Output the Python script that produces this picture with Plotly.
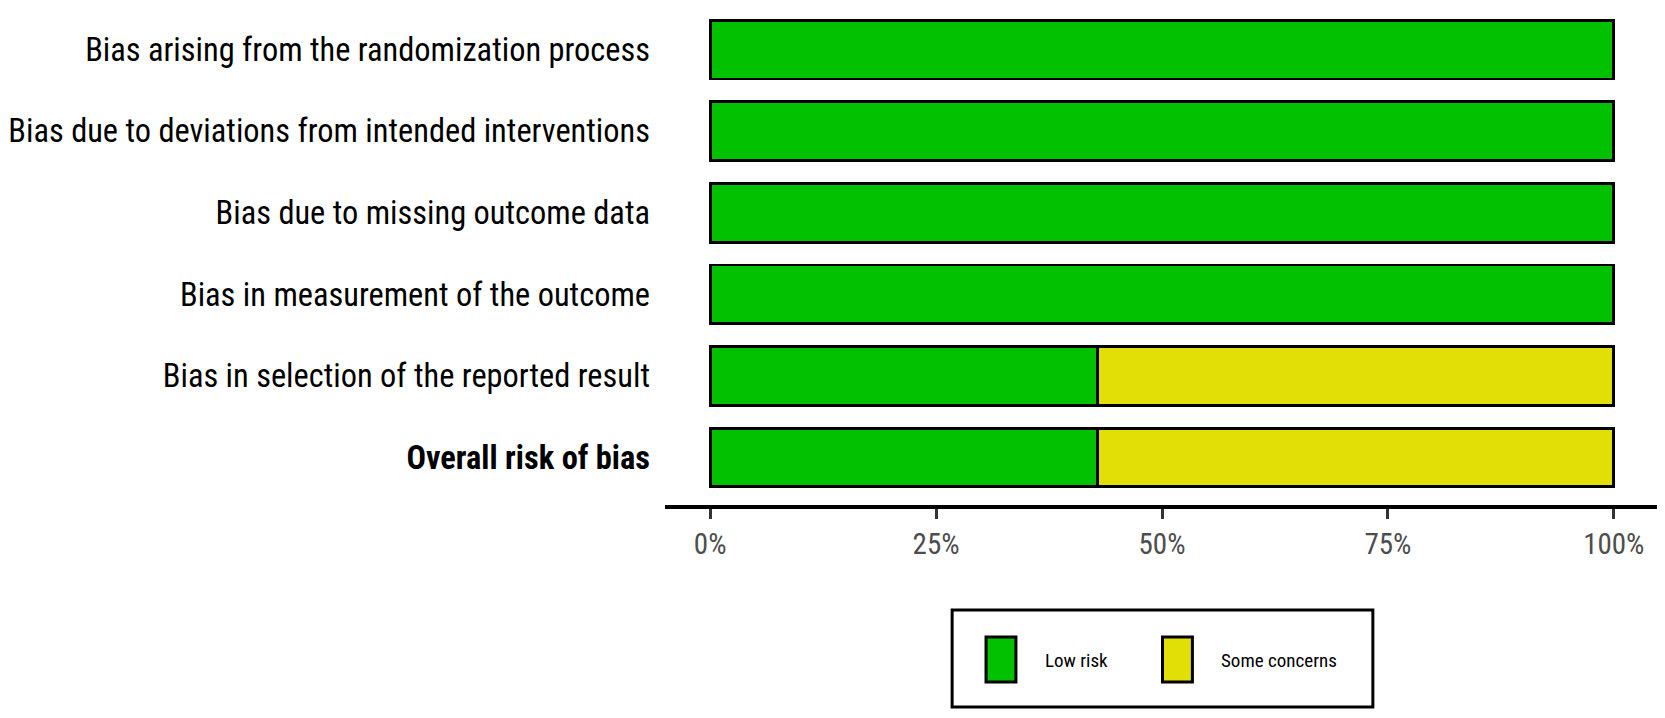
import plotly.graph_objects as go

# ---- data ----
domains = [
    "Bias arising from the randomization process",
    "Bias due to deviations from intended interventions",
    "Bias due to missing outcome data",
    "Bias in measurement of the outcome",
    "Bias in selection of the reported result",
    "Overall risk of bias",
]
low_risk = [100, 100, 100, 100, 42.86, 42.86]
some_concerns = [0, 0, 0, 0, 57.14, 57.14]
series_names = ["Low risk", "Some concerns"]
series_colors = ["#02C100", "#E2DF07"]
tick_vals = [0, 25, 50, 75, 100]
tick_labels = ["0%", "25%", "50%", "75%", "100%"]

# page has an 8px body margin; size the figure to fit the window
OFF = 8
W, H = 1665 - OFF, 718 - OFF
ML, MR, MT, MB = 662 - OFF, 6, 0, 213
PW, PH = W - ML - MR, H - MT - MB

FONT = "Liberation Sans Narrow, Arial Narrow, Roboto Condensed, Liberation Sans, sans-serif"

display = [d if d != "Overall risk of bias" else "<b>" + d + "</b>" for d in domains]

fig = go.Figure()
for name, vals, col in zip(series_names, [low_risk, some_concerns], series_colors):
    fig.add_trace(go.Bar(
        y=domains, x=[v if v > 0 else None for v in vals], name=name, orientation="h",
        marker=dict(color=col, line=dict(color="black", width=2.8)),
        width=0.72, showlegend=False,
    ))

def px(x):
    return (x - OFF - ML) / PW

def py(y):
    return (H - MB - (y - OFF)) / PH

shapes = []
annotations = []
# legend box (page pixel positions)
shapes.append(dict(type="rect", xref="paper", yref="paper",
                   x0=px(950), x1=px(1372), y0=py(707), y1=py(610),
                   line=dict(color="black", width=3), fillcolor="white"))
key_x = [984, 1161]
text_x = [1041, 1218]
for kx, tx, name, col in zip(key_x, text_x, series_names, series_colors):
    shapes.append(dict(type="rect", xref="paper", yref="paper",
                       x0=px(kx), x1=px(kx + 30), y0=py(682), y1=py(637),
                       line=dict(color="black", width=3), fillcolor=col))
    annotations.append(dict(xref="paper", yref="paper", x=px(tx), y=py(660),
                            text=name, showarrow=False, xanchor="left", yanchor="middle",
                            font=dict(family=FONT, size=19, color="black")))

fig.update_layout(
    width=W, height=H,
    margin=dict(l=ML, r=MR, t=MT, b=MB),
    barmode="stack",
    plot_bgcolor="white", paper_bgcolor="white",
    font=dict(family=FONT),
    xaxis=dict(range=[-5, 105], tickvals=tick_vals, ticktext=tick_labels,
               showgrid=False, zeroline=False, showline=True, linecolor="black", linewidth=4,
               ticks="outside", ticklen=10, tickwidth=3, tickcolor="#333333",
               tickfont=dict(family=FONT, size=29, color="#4D4D4D")),
    yaxis=dict(type="category", categoryorder="array", categoryarray=domains,
               range=[5.582, -0.509], tickmode="array", tickvals=domains, ticktext=display,
               showgrid=False, zeroline=False, showline=False, ticks="",
               ticklabelstandoff=14,
               tickfont=dict(family=FONT, size=32.4, color="black")),
    shapes=shapes, annotations=annotations,
)

fig.write_html("out.html")
